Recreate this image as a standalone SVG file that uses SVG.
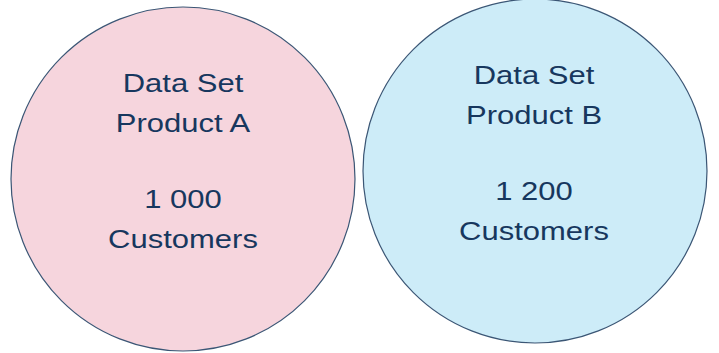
<svg xmlns="http://www.w3.org/2000/svg" width="719" height="353" viewBox="0 0 719 353">
<style>
.c{stroke:#3b5675;stroke-width:1.2}
.t{font-family:"Liberation Sans",Arial,sans-serif;font-size:25px;fill:#17375e;text-anchor:middle}
</style>
<rect width="719" height="353" fill="#ffffff"/>
<g id="setA">
<circle class="c" cx="183" cy="179" r="172" fill="#f6d5dd"/>
<g transform="translate(183,0) scale(1.24,1)">
<text class="t" x="0" y="92">Data Set</text>
<text class="t" x="0" y="132">Product A</text>
<text class="t" x="0" y="208">1 000</text>
<text class="t" x="0" y="248">Customers</text>
</g>
</g>
<g id="setB">
<circle class="c" cx="535" cy="171" r="172" fill="#cdecf8"/>
<g transform="translate(534,0) scale(1.24,1)">
<text class="t" x="0" y="84">Data Set</text>
<text class="t" x="0" y="124">Product B</text>
<text class="t" x="0" y="200">1 200</text>
<text class="t" x="0" y="240">Customers</text>
</g>
</g>
<g id="connectors"></g>
</svg>
